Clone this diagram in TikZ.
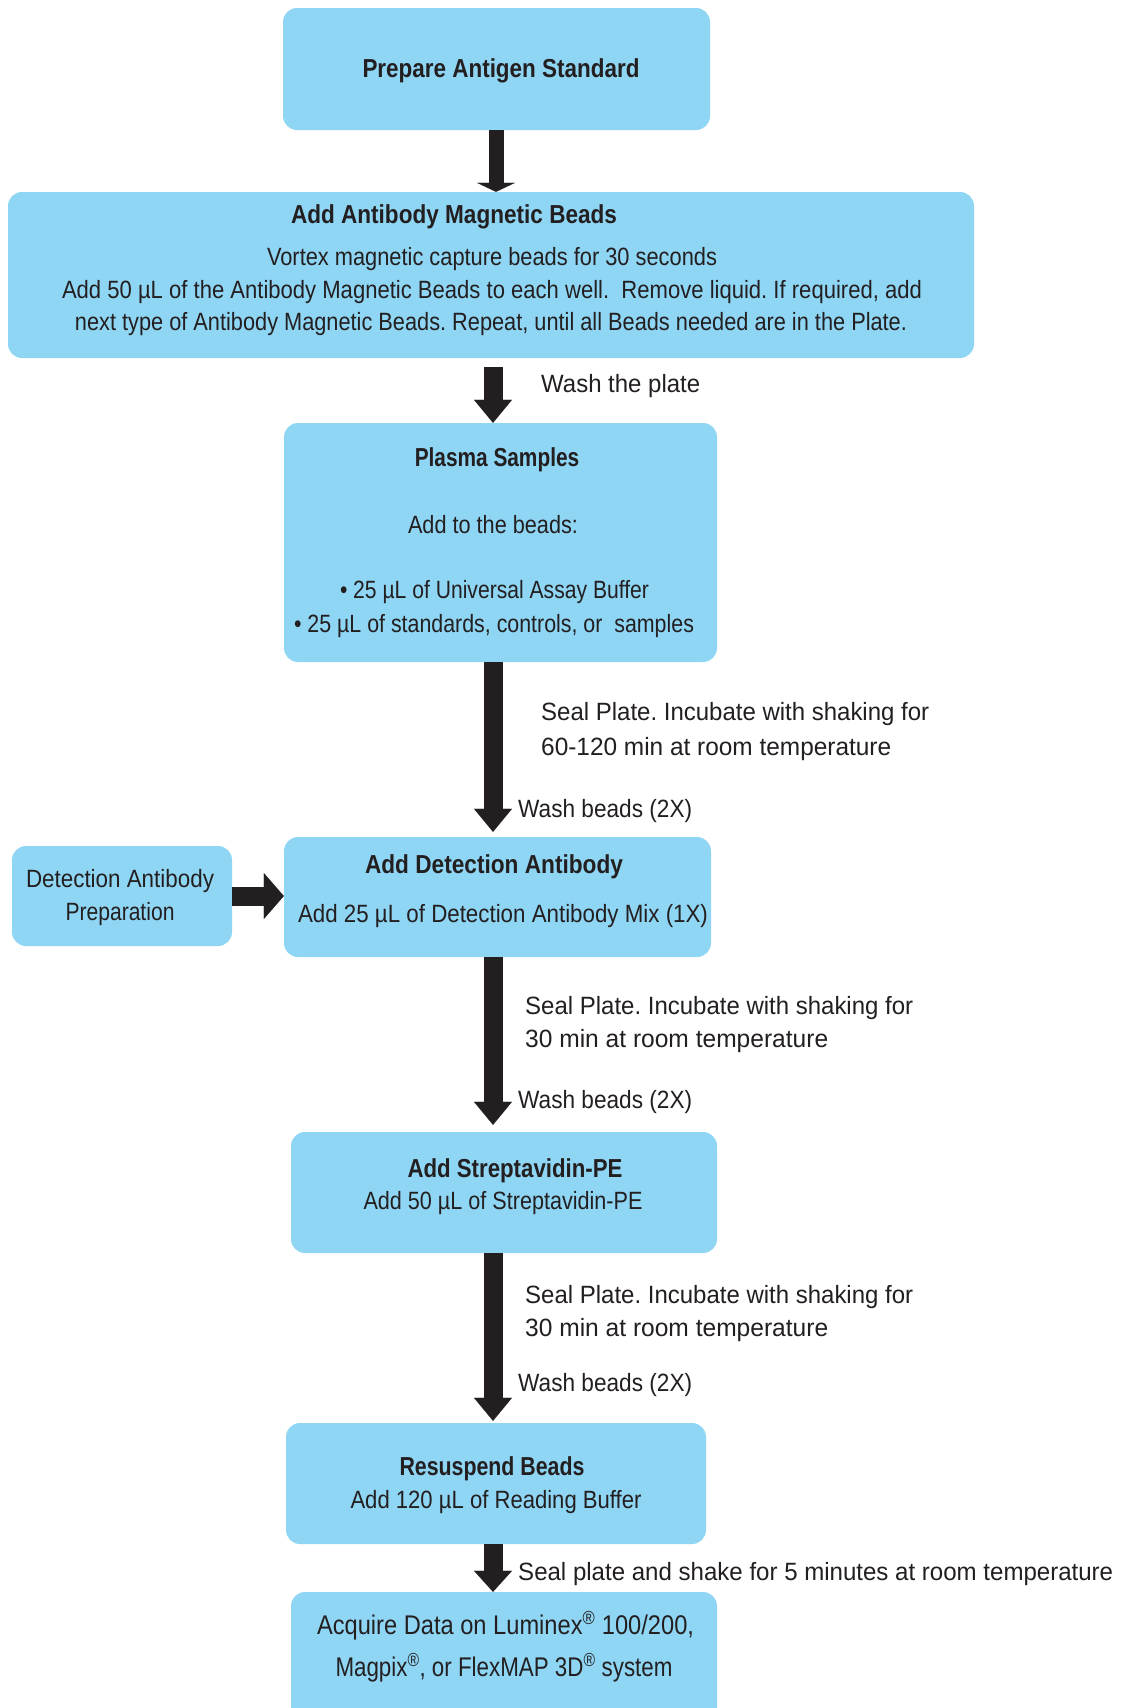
\documentclass[tikz,border=0pt]{standalone}
\usepackage{fontspec}
\setmainfont{Liberation Sans}
\usepackage{graphicx}
\usetikzlibrary{arrows.meta}
\frenchspacing
\definecolor{boxblue}{HTML}{8FD6F5}
\definecolor{ink}{HTML}{231F20}
\newsavebox\fitbox
\newcommand\fitto[2]{\sbox\fitbox{\frenchspacing#2}\pgfmathsetmacro\fitr{#1/\the\wd\fitbox}\scalebox{\fitr}[1]{\usebox\fitbox}}
\tikzset{
  box/.style={fill=boxblue, draw=none, rounded corners=14pt, inner sep=0pt},
  txt/.style={inner sep=0pt, text=ink, font=\fontsize{25pt}{30pt}\selectfont, anchor=base},
  ttl/.style={txt, font=\fontsize{26pt}{30pt}\selectfont\bfseries},
  lbl/.style={txt, anchor=base west},
  big/.style={txt, font=\fontsize{27pt}{32pt}\selectfont},
  flow/.style={draw=ink, line width=19pt, -{Triangle[width=38pt,length=23pt,line width=0.01pt]}}
}
\begin{document}
\begin{tikzpicture}[x=1pt,y=-1pt]
\useasboundingbox (0,0) rectangle (1122,1708);
\clip (0,0) rectangle (1122,1708);
\fill[white] (0,0) rectangle (1122,1708);
% boxes
\node[box, minimum width=427pt, minimum height=122pt] (b1) at (496.5,69) {};
\node[box, minimum width=966pt, minimum height=166pt] (b2) at (491,275) {};
\node[box, minimum width=433pt, minimum height=239pt] (b3) at (500.5,542.5) {};
\node[box, minimum width=427pt, minimum height=120pt] (b4) at (497.5,897) {};
\node[box, minimum width=220pt, minimum height=100pt] (bp) at (122,896) {};
\node[box, minimum width=426pt, minimum height=121pt] (b5) at (504,1192.5) {};
\node[box, minimum width=420pt, minimum height=121pt] (b6) at (496,1483.5) {};
\node[box, minimum width=426pt, minimum height=148pt] (b7) at (504,1666) {};
% arrow columns
\coordinate (c1) at (496,0);
\coordinate (c2) at (493,0);
% connectors
\draw[flow, line width=15pt, -{Triangle[width=38pt,length=9pt,line width=0.01pt]}] (b1.south -| c1) -- (b2.north -| c1);
\draw[flow, shorten <=9pt] (b2.south -| c2) -- (b3.north -| c2);
\draw[flow, shorten >=5pt] (b3.south -| c2) -- (b4.north -| c2);
\draw[flow, shorten >=7pt] (b4.south -| c2) -- (b5.north -| c2);
\draw[flow, shorten >=2pt] (b5.south -| c2) -- (b6.north -| c2);
\draw[flow, -{Triangle[width=38pt,length=21pt,line width=0.01pt]}] (b6.south -| c2) -- (b7.north -| c2);
\draw[flow, line width=19pt, -{Triangle[width=46pt,length=20pt,line width=0.01pt]}] (bp.east) -- (bp.east -| b4.west);
% texts
\node[ttl] (t1) at (501,77) {\fitto{277}{Prepare Antigen Standard}};
\node[ttl] (t2) at (454,223) {\fitto{326}{Add Antibody Magnetic Beads}};
\node[txt] (t2a) at (492,265) {\fitto{450}{Vortex magnetic capture beads for 30 seconds}};
\node[txt] (t2b) at (492,298) {\fitto{860}{Add 50 µL of the Antibody Magnetic Beads to each well.\ \ Remove liquid. If required, add}};
\node[txt] (t2c) at (491,330) {\fitto{832}{next type of Antibody Magnetic Beads. Repeat, until all Beads needed are in the Plate.}};
\node[lbl] (l1) at (541,392) {\fitto{159}{Wash the plate}};
\node[ttl] (t3) at (497,466) {\fitto{164.5}{Plasma Samples}};
\node[txt] (t3a) at (493,533) {\fitto{170}{Add to the beads:}};
\node[txt] (t3b) at (494.5,598) {\fitto{309}{• 25 µL of Universal Assay Buffer}};
\node[txt] (t3c) at (494,632) {\fitto{400}{• 25 µL of standards, controls, or\ \ samples}};
\node[lbl] (l2a) at (541,720) {\fitto{388}{Seal Plate. Incubate with shaking for}};
\node[lbl] (l2b) at (541,755) {\fitto{350}{60-120 min at room temperature}};
\node[lbl] (l2c) at (518,817) {\fitto{174}{Wash beads (2X)}};
\node[ttl] (t4) at (494,873) {\fitto{258}{Add Detection Antibody}};
\node[txt] (t4a) at (503,922) {\fitto{410}{Add 25 µL of Detection Antibody Mix (1X)}};
\node[txt] (tpa) at (120,887) {\fitto{188}{Detection Antibody}};
\node[txt] (tpb) at (120,920) {\fitto{109}{Preparation}};
\node[lbl] (l3a) at (525,1014) {\fitto{388}{Seal Plate. Incubate with shaking for}};
\node[lbl] (l3b) at (525,1047) {\fitto{303}{30 min at room temperature}};
\node[lbl] (l3c) at (518,1108) {\fitto{174}{Wash beads (2X)}};
\node[ttl] (t5) at (515,1177) {\fitto{215}{Add Streptavidin-PE}};
\node[txt] (t5a) at (503,1209) {\fitto{279}{Add 50 µL of Streptavidin-PE}};
\node[lbl] (l4a) at (525,1303) {\fitto{388}{Seal Plate. Incubate with shaking for}};
\node[lbl] (l4b) at (525,1336) {\fitto{303}{30 min at room temperature}};
\node[lbl] (l4c) at (518,1391) {\fitto{174}{Wash beads (2X)}};
\node[ttl] (t6) at (492,1475) {\fitto{185}{Resuspend Beads}};
\node[txt] (t6a) at (496,1508) {\fitto{291}{Add 120 µL of Reading Buffer}};
\node[lbl] (l5) at (518,1580) {\fitto{595}{Seal plate and shake for 5 minutes at room temperature}};
\node[big] (t7a) at (505.5,1634) {\fitto{377}{Acquire Data on Luminex\textsuperscript{®} 100/200,}};
\node[big] (t7b) at (504,1676) {\fitto{337}{Magpix\textsuperscript{®}, or FlexMAP 3D\textsuperscript{®} system}};
\end{tikzpicture}
\end{document}
